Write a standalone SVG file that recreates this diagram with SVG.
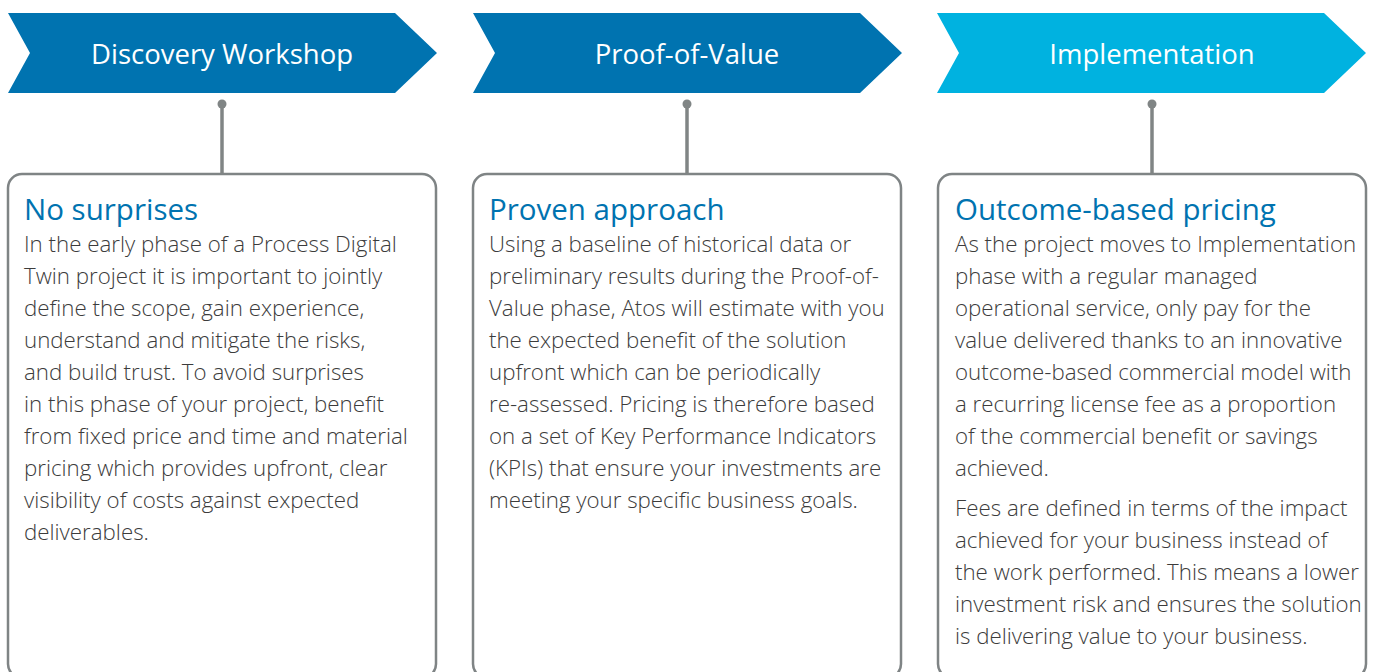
<svg xmlns="http://www.w3.org/2000/svg" width="1373" height="672" viewBox="0 0 1373 672">
<style>
.hdr{font-family:"Open Sans","Liberation Sans",sans-serif;font-size:27.5px;fill:#fff;text-anchor:middle}
.ttl{font-family:"Open Sans","Liberation Sans",sans-serif;font-size:29.5px;fill:#0073b0}
.body{font-family:"Open Sans","Liberation Sans",sans-serif;font-weight:300;font-size:22.3px;fill:#3c3c3c}
.box{fill:#fff;stroke:#7f8485;stroke-width:2.5}
.conn{stroke:#808585;stroke-width:3.5}
.dot{fill:#808585}
</style>
<rect width="1373" height="672" fill="#fff"/>
<g id="connectors">
<line class="conn" x1="222" y1="104" x2="222" y2="173"/><circle class="dot" cx="222" cy="104" r="4.5"/>
<line class="conn" x1="687" y1="104" x2="687" y2="173"/><circle class="dot" cx="687" cy="104" r="4.5"/>
<line class="conn" x1="1152" y1="104" x2="1152" y2="173"/><circle class="dot" cx="1152" cy="104" r="4.5"/>
</g>
<g id="phase1">
<polygon points="8,13 395,13 437,53 395,93 8,93 30,53" fill="#0073b0"/>
<text class="hdr" x="222" y="64">Discovery Workshop</text>
</g>
<g id="phase2">
<polygon points="473,13 860,13 902,53 860,93 473,93 495,53" fill="#0073b0"/>
<text class="hdr" x="687" y="64">Proof-of-Value</text>
</g>
<g id="phase3">
<polygon points="937,13 1324,13 1366,53 1324,93 937,93 959,53" fill="#00b2e0"/>
<text class="hdr" x="1152" y="64">Implementation</text>
</g>
<g id="box1">
<rect class="box" x="8" y="174" width="428" height="504" rx="14"/>
<text class="ttl" x="24" y="220">No surprises</text>
<text class="body">
<tspan x="24" y="252">In the early phase of a Process Digital</tspan>
<tspan x="24" y="284">Twin project it is important to jointly</tspan>
<tspan x="24" y="316">define the scope, gain experience,</tspan>
<tspan x="24" y="348">understand and mitigate the risks,</tspan>
<tspan x="24" y="380">and build trust. To avoid surprises</tspan>
<tspan x="24" y="412">in this phase of your project, benefit</tspan>
<tspan x="24" y="444">from fixed price and time and material</tspan>
<tspan x="24" y="476">pricing which provides upfront, clear</tspan>
<tspan x="24" y="508">visibility of costs against expected</tspan>
<tspan x="24" y="540">deliverables.</tspan>
</text>
</g>
<g id="box2">
<rect class="box" x="473" y="174" width="428" height="504" rx="14"/>
<text class="ttl" x="489" y="220">Proven approach</text>
<text class="body">
<tspan x="489" y="252">Using a baseline of historical data or</tspan>
<tspan x="489" y="284">preliminary results during the Proof-of-</tspan>
<tspan x="489" y="316">Value phase, Atos will estimate with you</tspan>
<tspan x="489" y="348">the expected benefit of the solution</tspan>
<tspan x="489" y="380">upfront which can be periodically</tspan>
<tspan x="489" y="412">re-assessed. Pricing is therefore based</tspan>
<tspan x="489" y="444">on a set of Key Performance Indicators</tspan>
<tspan x="489" y="476">(KPIs) that ensure your investments are</tspan>
<tspan x="489" y="508">meeting your specific business goals.</tspan>
</text>
</g>
<g id="box3">
<rect class="box" x="938" y="174" width="428" height="504" rx="14"/>
<text class="ttl" x="955" y="220">Outcome-based pricing</text>
<text class="body">
<tspan x="955" y="252">As the project moves to Implementation</tspan>
<tspan x="955" y="284">phase with a regular managed</tspan>
<tspan x="955" y="316">operational service, only pay for the</tspan>
<tspan x="955" y="348">value delivered thanks to an innovative</tspan>
<tspan x="955" y="380">outcome-based commercial model with</tspan>
<tspan x="955" y="412">a recurring license fee as a proportion</tspan>
<tspan x="955" y="444">of the commercial benefit or savings</tspan>
<tspan x="955" y="476">achieved.</tspan>
<tspan x="955" y="516">Fees are defined in terms of the impact</tspan>
<tspan x="955" y="548">achieved for your business instead of</tspan>
<tspan x="955" y="580">the work performed. This means a lower</tspan>
<tspan x="955" y="612">investment risk and ensures the solution</tspan>
<tspan x="955" y="644">is delivering value to your business.</tspan>
</text>
</g>
</svg>
